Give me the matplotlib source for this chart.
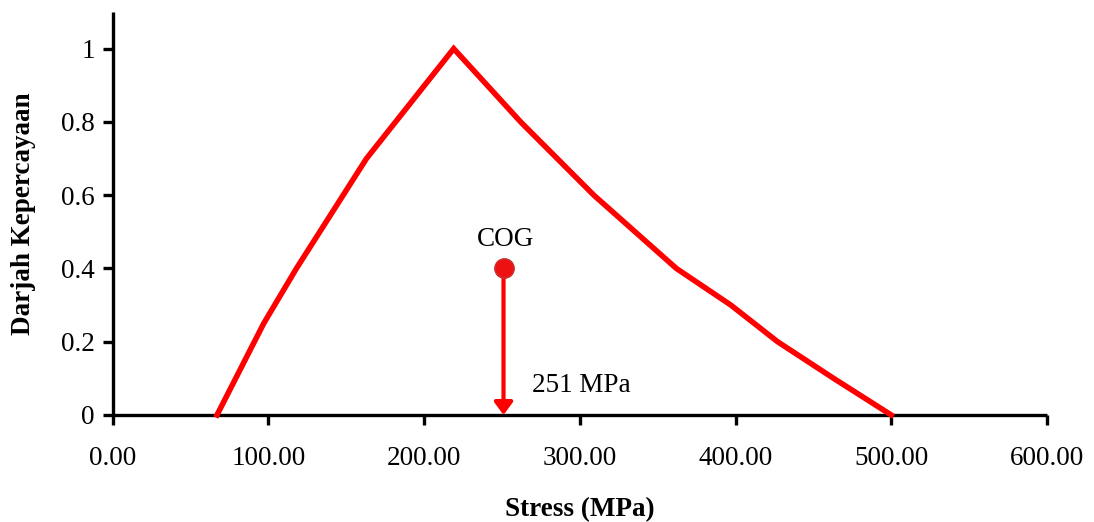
import matplotlib
matplotlib.use("Agg")
import matplotlib.pyplot as plt

# Data
stress = [67, 79, 97, 118, 163, 219, 262, 309, 362, 397, 427, 463, 500]
degree = [0.0, 0.1, 0.25, 0.4, 0.7, 1.0, 0.8, 0.6, 0.4, 0.3, 0.2, 0.1, 0.0]
cog_x = 251
cog_y = 0.4
cog_label = "COG"
cog_value_label = "251 MPa"
xticks = [0, 100, 200, 300, 400, 500, 600]
yticks = [0, 0.2, 0.4, 0.6, 0.8, 1]
ytick_labels = ["0", "0.2", "0.4", "0.6", "0.8", "1"]

plt.rcParams['font.family'] = ['Liberation Serif', 'DejaVu Serif']
FS = 19.5

fig = plt.figure(figsize=(10.94, 5.22), dpi=100)
ax = fig.add_axes([0.103, 0.205, 0.854, 0.772])

ax.plot(stress, degree, color='#ff0000', lw=4.0, solid_joinstyle='miter', clip_on=False, zorder=3)

ax.annotate("", xy=(cog_x, 0), xytext=(cog_x, cog_y),
            arrowprops=dict(arrowstyle='-|>,head_length=0.75,head_width=0.55',
                            color='#ff0000', lw=3, shrinkA=0, shrinkB=0),
            zorder=4)
ax.plot([cog_x], [cog_y], 'o', markersize=14, markerfacecolor='#ee1111',
        markeredgecolor='#c83232', markeredgewidth=1, zorder=5)
ax.text(cog_x + 1, cog_y + 0.045, cog_label, ha='center', va='bottom', fontsize=FS)
ax.text(cog_x + 18, 0.08, cog_value_label, ha='left', va='center', fontsize=FS)

ax.set_xlim(0, 600)
ax.set_ylim(0, 1.1)
ax.set_xticks(xticks)
ax.set_xticklabels([f"{v:.2f}" for v in xticks])
ax.set_yticks(yticks)
ax.set_yticklabels(ytick_labels)

for s in ['top', 'right']:
    ax.spines[s].set_visible(False)
for s in ['left', 'bottom']:
    ax.spines[s].set_linewidth(2.4)
    ax.spines[s].set_capstyle('butt')

ax.tick_params(axis='both', direction='out', length=7, width=2.4, labelsize=FS, colors='black')
ax.tick_params(axis='x', pad=15)
ax.tick_params(axis='y', pad=6)

ax.set_xlabel("Stress (MPa)", fontsize=FS, fontweight='bold', labelpad=19)
ax.set_ylabel("Darjah Kepercayaan", fontsize=FS, fontweight='bold', labelpad=18)

fig.savefig("out.png", dpi=100)
